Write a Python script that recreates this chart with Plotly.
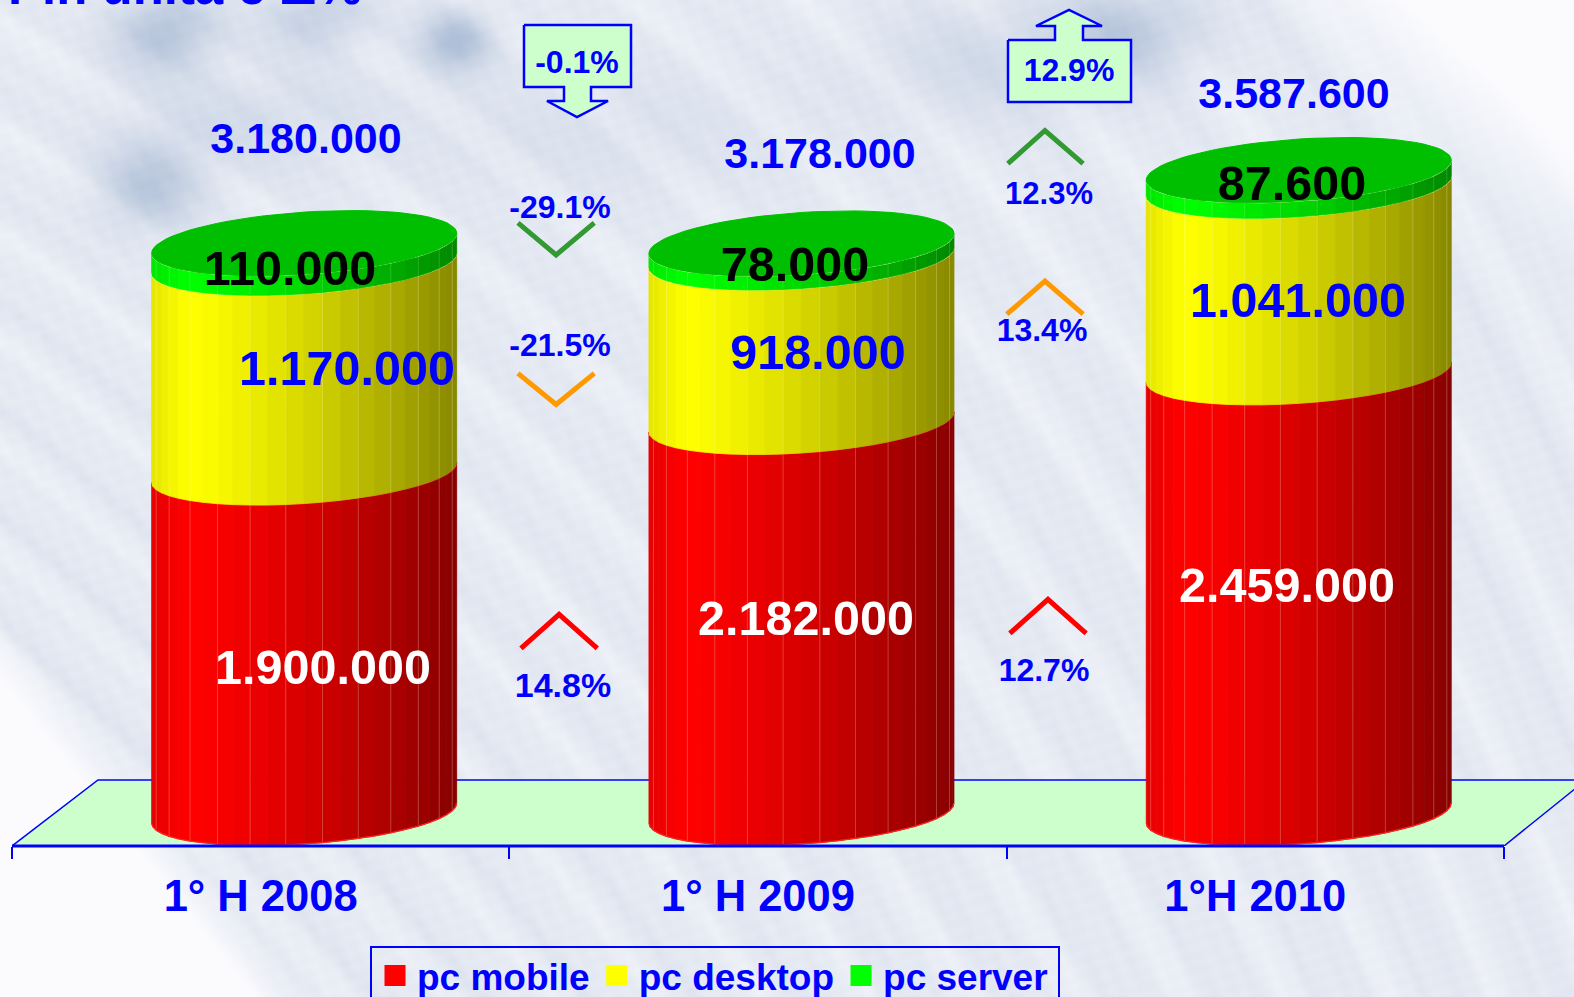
import base64, math, struct, zlib
import numpy as np
import plotly.graph_objects as go

# ---------- data ----------
categories = ["1° H 2008", "1° H 2009", "1°H 2010"]
series_names = ["pc mobile", "pc desktop", "pc server"]
pc_mobile = [1900000, 2182000, 2459000]
pc_desktop = [1170000, 918000, 1041000]
pc_server = [110000, 78000, 87600]
totals = [3180000, 3178000, 3587600]
delta_server = ["-29.1%", "12.3%"]
delta_desktop = ["-21.5%", "13.4%"]
delta_mobile = ["14.8%", "12.7%"]
delta_total = ["-0.1%", "12.9%"]
title_text = "Pin unità e Δ%"

# ---------- geometry / style ----------
W, H = 1574, 997
BASE_PX, LEFT_PX, STEP_PX = 846, 12, 497.3
PER_PX = 5580.0
FONT = "Liberation Sans"
BLUE = "#0000ff"
px2x = lambda p: (p - LEFT_PX) / STEP_PX
px2y = lambda p: (BASE_PX - p) * PER_PX
S = 1.0038  # shown -> full picture scale
plot_w = W - LEFT_PX

fig = go.Figure()


def poly(xs, ys, fill, line=None, lw=1.0):
    fig.add_trace(go.Scatter(x=xs, y=ys, mode="lines", fill="toself", fillcolor=fill,
                             line=dict(color=line or fill, width=lw), hoverinfo="skip",
                             showlegend=False))


def polyline(xs, ys, color, lw):
    fig.add_trace(go.Scatter(x=xs, y=ys, mode="lines", line=dict(color=color, width=lw),
                             hoverinfo="skip", showlegend=False))


def label(x_px, y_px, text, size, color):
    fig.add_trace(go.Scatter(x=[px2x(x_px)], y=[px2y(y_px + 3)], mode="text", text=[text],
                             textposition="middle center",
                             textfont=dict(family=FONT, size=size, color=color, weight=700),
                             hoverinfo="skip", showlegend=False, cliponaxis=False))


fmt = lambda v: f"{v:,}".replace(",", ".")

# ---------- floor ----------
poly([px2x(12), px2x(98), px2x(1586), px2x(1504), px2x(12)],
     [px2y(846), px2y(780), px2y(780), px2y(846), px2y(846)], "#ccffcc", BLUE, 1.5)

# ---------- cylinders ----------
CENTER_SHIFT = 0.0875
HALF_W = 152.5 / STEP_PX
B_PX, TILT_PX, LOW_PX = 31.0, 10.0, 33.0
N = 26
ts = np.linspace(math.pi, 0, N + 1)


def ell(t):
    return PER_PX * (LOW_PX - B_PX * np.sin(t) + TILT_PX * np.cos(t))


def bright(u):
    if u < 0.12:
        return 0.9 + 0.1 * u / 0.12
    return 1 - 0.47 * ((u - 0.12) / 0.88) ** 1.3


def shade(kind, u):
    b = int(round(255 * bright(u)))
    return {"r": f"rgb({b},0,0)", "y": f"rgb({b},{b},0)", "g": f"rgb(0,{b},0)"}[kind]


series = [("r", pc_mobile, "rgba(255,215,190,0.28)", "#ff2020"),
          ("y", pc_desktop, "rgba(255,255,190,0.25)", "#ffff99"),
          ("g", pc_server, "rgba(200,255,200,0.18)", "#f4ffc8")]

for i in range(len(categories)):
    cx = i + 0.5 + CENTER_SHIFT
    xs_edge = cx + HALF_W * np.cos(ts)
    v0 = 0
    for kind, vals, facet_col, rim in series:
        v1 = v0 + vals[i]
        for j in range(N):
            tt = np.linspace(ts[j], ts[j + 1], 3)
            x = cx + HALF_W * np.cos(tt)
            u = 0.5 + 0.5 * math.cos((ts[j] + ts[j + 1]) / 2)
            poly(list(x) + list(x[::-1]) + [x[0]],
                 list(v0 + ell(tt)) + list(v1 + ell(tt[::-1])) + [v0 + ell(tt[0])],
                 shade(kind, u), None, 0.8)
        fx, fy = [], []
        for j in range(2, N, 2):
            fx += [xs_edge[j], xs_edge[j], None]
            fy += [v0 + ell(ts[j]), v1 + ell(ts[j]), None]
        polyline(fx, fy, facet_col, 1)
        polyline(list(xs_edge), list(v1 + ell(ts)), rim, 1.3)
        if v0 == 0:
            polyline(list(xs_edge), list(ell(ts)), rim, 1.3)
        v0 = v1
    tf = np.linspace(0, 2 * math.pi, 73)
    poly(list(cx + HALF_W * np.cos(tf)), list(v0 + ell(tf)), "#00bf00")

# ---------- value labels ----------
total_pos = [(306, 139), (820, 154), (1294, 94)]
mobile_pos = [(323, 669), (806, 620), (1287, 587)]
desktop_pos = [(347, 370), (818, 354), (1298, 302)]
server_pos = [(290, 270), (795, 266), (1292, 185)]
for i in range(3):
    label(*total_pos[i], fmt(totals[i]), 43, BLUE)
    label(*mobile_pos[i], fmt(pc_mobile[i]), 48.5, "#ffffff")
    label(*desktop_pos[i], fmt(pc_desktop[i]), 48.5, BLUE)
    label(*server_pos[i], fmt(pc_server[i]), 48.5, "#000000")

# ---------- delta chevrons ----------
chev = [
    ([516, 554, 592], [222, 254, 222], "#339933"),
    ([516, 554, 592], [372, 403, 372], "#ff9900"),
    ([519, 557, 595], [646, 612, 646], "#ff0000"),
    ([1004, 1041, 1079], [163, 130, 163], "#339933"),
    ([1003, 1041, 1079], [313, 280, 313], "#ff9900"),
    ([1006, 1044, 1082], [631, 597, 631], "#ff0000"),
]
for xs, ys, col in chev:
    polyline([px2x(a * S) for a in xs], [px2y(b * S) for b in ys], col, 5)

label(560, 207, delta_server[0], 32, BLUE)
label(560, 345, delta_desktop[0], 32, BLUE)
label(563, 685, delta_mobile[0], 34, BLUE)
label(1049, 193, delta_server[1], 31, BLUE)
label(1042, 330, delta_desktop[1], 32, BLUE)
label(1044, 670, delta_mobile[1], 32, BLUE)

# ---------- total arrows ----------
down = [(524, 25), (631, 25), (631, 87), (591, 87), (591, 101), (608, 101), (577, 117),
        (547, 101), (564, 101), (564, 87), (524, 87), (524, 25)]
up = [(1008, 40), (1055, 40), (1055, 26), (1036, 26), (1069, 10), (1102, 26), (1083, 26),
      (1083, 40), (1131, 40), (1131, 102), (1008, 102), (1008, 40)]
for shape in (down, up):
    poly([px2x(p[0]) for p in shape], [px2y(p[1]) for p in shape], "#ccffcc", BLUE, 2.5)
label(577, 62, delta_total[0], 32, BLUE)
label(1069, 70, delta_total[1], 32, BLUE)

# ---------- legend entries ----------
for name, col in zip(series_names, ["#ff0000", "#ffff00", "#00ff00"]):
    fig.add_trace(go.Scatter(x=[None], y=[None], mode="markers", name=name,
                             marker=dict(symbol="square", size=16, color=col,
                                         line=dict(color=col, width=5))))


# ---------- background picture ----------
def background():
    w, h = W // 2, H // 2
    yy, xx = np.mgrid[0:h, 0:w]
    x = xx * 2.0
    y = yy * 2.0
    m = 1.6 - 0.95 * x / W
    q = x - y * m
    streak = (0.5 * np.sin(q / 27) + 0.32 * np.sin(q / 13.3 + 1) + 0.14 * np.sin(q / 6.9 + 2))
    c = 0.27 + 0.10 * streak
    for bx, by, sx, sy, amp in [(165, 30, 50, 40, 0.65), (315, 15, 50, 35, 0.45), (455, 40, 35, 30, 0.7),
                                (150, 185, 50, 45, 0.55), (250, 120, 120, 50, 0.22),
                                (1130, 30, 70, 45, 0.5), (1000, 60, 120, 60, 0.25),
                                (600, 130, 200, 70, 0.12)]:
        c = c + amp * np.exp(-((x - bx) / sx) ** 2 - ((y - by) / sy) ** 2)
    # fine mottling
    c = c + 0.03 * np.sin(x / 4.3 + y / 7.1) * np.sin(x / 9.7 - y / 3.7)
    # white corners of the rotated photo
    lower_left = np.clip(((y - 640) - (x - 20) * 1.25) / 60, 0, 1)
    upper_right = np.clip(((x - 1270) - y * 1.1) / 130, 0, 1)
    c = c * (1 - lower_left) * (1 - upper_right)
    c = np.clip(c, 0, 1)[..., None]
    pale = np.array([251, 251, 254.0])
    deep = np.array([176, 192, 216.0])
    img = (pale * (1 - c) + deep * c).astype(np.uint8)
    raw = b"".join(b"\x00" + img[r].tobytes() for r in range(h))

    def chunk(tag, data):
        return struct.pack(">I", len(data)) + tag + data + struct.pack(">I", zlib.crc32(tag + data))

    png = (b"\x89PNG\r\n\x1a\n" + chunk(b"IHDR", struct.pack(">IIBBBBB", w, h, 8, 2, 0, 0, 0))
           + chunk(b"IDAT", zlib.compress(raw, 9)) + chunk(b"IEND", b""))
    return "data:image/png;base64," + base64.b64encode(png).decode()


LEGEND_BOX = (371, 947, 1059, 1010)
fig.update_layout(
    width=W, height=H,
    margin=dict(l=LEFT_PX, r=0, t=0, b=H - BASE_PX, pad=0, autoexpand=False),
    paper_bgcolor="#ffffff", plot_bgcolor="rgba(0,0,0,0)",
    showlegend=True,
    font=dict(family=FONT),
    xaxis=dict(range=[0, plot_w / STEP_PX], tickmode="array", tickvals=[0.5, 1.5, 2.5],
               ticktext=categories, ticks="outside", ticklen=12, tickcolor="rgba(0,0,0,0)",
               tickfont=dict(family=FONT, size=43.5, color=BLUE, weight=700),
               ticklabelstandoff=0,
               showgrid=False, zeroline=False, showline=False, fixedrange=True,
               minor=dict(tickmode="array", tickvals=[0, 1, 2, 3], ticks="outside", ticklen=12,
                          tickcolor=BLUE, tickwidth=1.5, showgrid=False)),
    yaxis=dict(range=[0, BASE_PX * PER_PX], visible=False, fixedrange=True),
    legend=dict(orientation="h", x=(373 - LEFT_PX) / plot_w, xanchor="left",
                y=-(945 - BASE_PX) / BASE_PX, yanchor="top", itemwidth=34,
                font=dict(family=FONT, size=37, color=BLUE, weight=700),
                bgcolor="rgba(0,0,0,0)", borderwidth=0),
    shapes=[
        dict(type="line", xref="paper", yref="paper", x0=0, x1=(1504 - LEFT_PX) / plot_w, y0=0, y1=0,
             line=dict(color=BLUE, width=3), layer="above"),
        dict(type="rect", xref="paper", yref="paper",
             x0=(LEGEND_BOX[0] - LEFT_PX) / plot_w, x1=(LEGEND_BOX[2] - LEFT_PX) / plot_w,
             y0=(BASE_PX - LEGEND_BOX[1]) / BASE_PX, y1=(BASE_PX - LEGEND_BOX[3]) / BASE_PX,
             line=dict(color=BLUE, width=2), fillcolor="rgba(0,0,0,0)", layer="above"),
    ],
    annotations=[dict(text=title_text, xref="paper", yref="paper", xanchor="left", yanchor="bottom",
                      x=(6 - LEFT_PX) / plot_w, y=1 - 17 / BASE_PX, showarrow=False,
                      font=dict(family=FONT, size=51, color=BLUE, weight=700))],
    images=[dict(source=background(), xref="paper", yref="paper", x=-LEFT_PX / plot_w, y=1,
                 sizex=W / plot_w, sizey=H / BASE_PX, xanchor="left", yanchor="top",
                 sizing="stretch", layer="below")],
)

fig.write_html("out.html", config={"displayModeBar": False},
               post_script="document.body.style.margin='0';document.body.style.overflow='hidden';")
